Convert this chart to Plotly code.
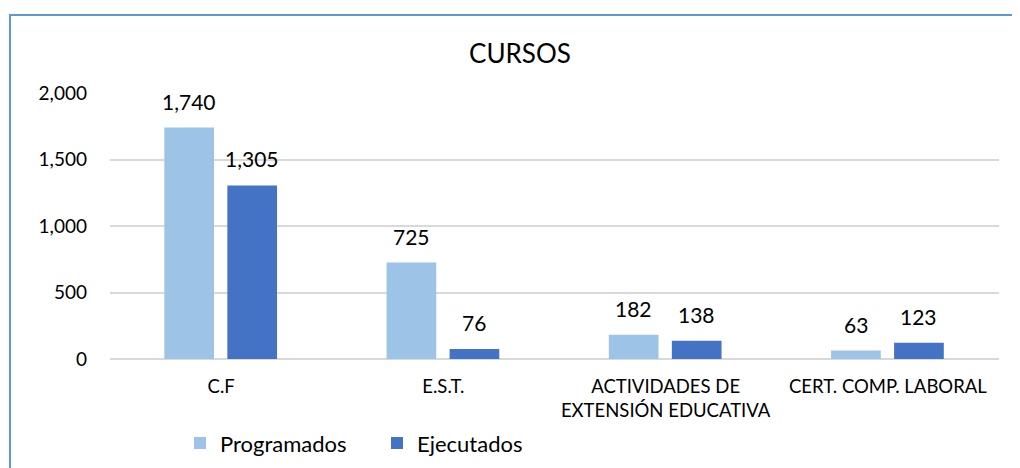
import plotly.graph_objects as go

categories = ["C.F", "E.S.T.", "ACTIVIDADES DE<br>EXTENSIÓN EDUCATIVA", "CERT. COMP. LABORAL"]
programados = [1740, 725, 182, 63]
ejecutados = [1305, 76, 138, 123]
series_names = ["Programados", "Ejecutados"]
y_ticks = [0, 500, 1000, 1500, 2000]

FONT = "Lato, 'Open Sans', sans-serif"
LIGHT = "#9DC3E6"
DARK = "#4472C4"

W = 0.2236
OFFS = [-0.2556, 0.028]
xs = list(range(len(categories)))

# plot-area geometry in figure pixels (page has a small body margin)
L, R, T, B = 102, 991, 85, 354.3
PW, PH = R - L, B - T

fig = go.Figure()
for vals, name, color, off in zip([programados, ejecutados], series_names, [LIGHT, DARK], OFFS):
    fig.add_trace(go.Bar(
        x=xs, y=vals, name=name, marker=dict(color=color, line=dict(width=0)),
        width=W, offset=off, hoverinfo="x+y",
    ))
    for x, v in zip(xs, vals):
        fig.add_annotation(
            x=x + off + W / 2, y=v, text=f"{v:,}", showarrow=False,
            yanchor="bottom", xanchor="center", yshift=12,
            font=dict(family=FONT, size=21, color="#000000"),
        )

# chart frame (Excel-style border)
fig.add_shape(type="rect", xref="paper", yref="paper",
              x0=(2 - L) / PW, x1=1.2, y0=-1.0, y1=(B - 6) / PH,
              line=dict(color="#5B9BD5", width=2), fillcolor="rgba(0,0,0,0)", layer="below")

fig.update_layout(
    width=1020, height=468,
    margin=dict(l=L, r=1020 - R, t=T, b=468 - B),
    paper_bgcolor="white", plot_bgcolor="white",
    barmode="overlay",
    title=dict(text="CURSOS", x=512 / 1020, xanchor="center", y=1 - 45.5 / 468, yanchor="middle",
               font=dict(family=FONT, size=26, color="#000000")),
    font=dict(family=FONT, color="#000000"),
    showlegend=True,
    legend=dict(orientation="h", x=(172 - L) / PW, xanchor="left",
                y=(B - 439.5) / PH, yanchor="middle",
                font=dict(family=FONT, size=22, color="#000000"),
                itemwidth=30, entrywidth=152, traceorder="normal", bgcolor="rgba(0,0,0,0)"),
    xaxis=dict(
        tickmode="array", tickvals=xs, ticktext=categories,
        range=[-0.5, len(categories) - 0.5],
        showgrid=False, zeroline=False, showline=False, ticks="",
        tickfont=dict(family=FONT, size=18.5, color="#000000"),
        ticklabelstandoff=14,
    ),
    yaxis=dict(
        range=[0, 2000], tickmode="array", tickvals=y_ticks,
        tickformat=",d", showgrid=True, gridcolor="#D9D9D9", gridwidth=1.5,
        zeroline=True, zerolinecolor="#D9D9D9", zerolinewidth=1.5,
        showline=False, ticks="",
        tickfont=dict(family=FONT, size=19, color="#000000"),
        ticklabelstandoff=22,
    ),
)

fig.write_html("out.html")
